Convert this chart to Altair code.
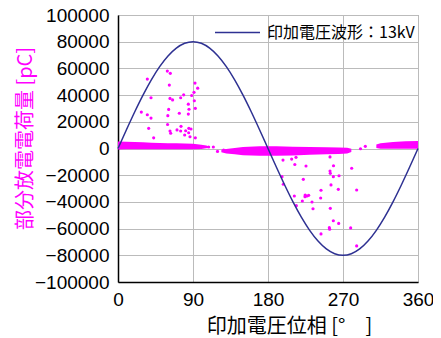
import altair as alt
import pandas as pd

# Applied voltage waveform (13 kV), phase in degrees, drawn in pC scale
wave_phase = [0, 10, 20, 30, 40, 50, 60, 70, 80, 90, 100, 110, 120, 130, 140, 150, 160, 170, 180,
              190, 200, 210, 220, 230, 240, 250, 260, 270, 280, 290, 300, 310, 320, 330, 340, 350, 360]
wave_value = [0, 13892, 27362, 40000, 51423, 61284, 69282, 75175, 78785, 80000, 78785, 75175, 69282,
              61284, 51423, 40000, 27362, 13892, 0, -13892, -27362, -40000, -51423, -61284, -69282,
              -75175, -78785, -80000, -78785, -75175, -69282, -61284, -51423, -40000, -27362, -13892, 0]
wave_label = "印加電圧波形：13kV"

# Dense band of small discharges near zero (segment, phase, low, high)
band_seg = [1] * 13 + [2] * 12 + [3] * 5
band_phase = [0, 10, 20, 30, 40, 50, 60, 70, 80, 90, 100, 106, 110,
              124, 130, 140, 150, 170, 190, 210, 230, 250, 265, 275, 280,
              310, 315, 330, 345, 360]
band_low = [-700, -600, -500, -500, -500, -500, -500, -500, -500, -500, -300, 100, 500,
            -2800, -3700, -4300, -5000, -5400, -5400, -5200, -4700, -4400, -4200, -3700, -2600,
            300, -200, -200, -200, -200]
band_high = [5200, 5000, 4800, 4600, 4400, 4200, 4000, 3900, 3700, 3600, 2800, 2200, 1400,
             -1000, -300, 400, 1200, 1600, 1700, 1400, 1200, 1000, 800, 500, -100,
             3000, 4000, 4900, 5400, 5600]

# Scattered large discharges
pt_phase = [28, 35.2, 35.2, 36.8, 39.6, 39.6, 42.8, 59.2, 62.8, 61.6, 62.4, 65.5, 60.8, 59.8, 59.5,
            62.4, 63.2, 70.8, 73.6, 75.2, 78.8, 75.6, 75.2, 80, 81.2, 85, 87.6, 84.8, 84.4, 85.2,
            84.4, 86.4, 88.4, 91.2, 92.4, 95.6, 91.6, 92.8, 92.8, 108.8, 114.4, 119.4, 126.8,
            196.8, 198.4, 198, 208.4, 212.2, 213.6, 211.6, 214, 221.2, 222.4, 224.6, 224.4, 226.8,
            228.8, 225.6, 232.8, 234, 243.6, 243.2, 243.6, 253.6, 254, 254.4, 254.8, 254.4, 255.6,
            254.8, 258.4, 258.6, 258.4, 264.4, 265.2, 264.8, 279.2, 280.4, 286.4, 286.4, 291, 296.8]
pt_value = [27300, 52000, 25300, 15100, 38000, 22800, 8000, 58000, 56300, 47500, 37500, 36400, 29300,
            24600, 18000, 13100, 11400, 13900, 26400, 38000, 40200, 16600, 13100, 10100, 13300,
            15100, 14600, 11800, 33200, 29400, 25800, 8800, 39700, 42100, 49000, 45200, 35800,
            30100, 8000, 1100, 1100, -2200, -1100,
            -21100, -26800, -8700, -7900, -12000, -6600, -35600, -42800, -39300, -23100, -34800,
            -36100, -35600, -35100, -13100, -40100, -45100, -31300, -37100, -64000, -59300, -60500,
            -16900, -18600, -6300, -27300, -44800, -21100, -12900, -54100, -30600, -20400, -56100,
            -59500, -14800, -31100, -73000, -200, 1600]

x_ticks = [0, 90, 180, 270, 360]
y_ticks = [-100000, -80000, -60000, -40000, -20000, 0, 20000, 40000, 60000, 80000, 100000]

wave_df = pd.DataFrame({"phase": wave_phase, "value": wave_value, "series": wave_label})
band_df = pd.DataFrame({"seg": band_seg, "phase": band_phase, "lo": band_low, "hi": band_high})
pt_df = pd.DataFrame({"phase": pt_phase, "value": pt_value})

MAG = "#FF00FF"
LINE = "#2E3192"

xscale = alt.Scale(domain=[0, 360], nice=False, zero=False)
yscale = alt.Scale(domain=[-100000, 100000], nice=False, zero=False)

xaxis = alt.Axis(values=x_ticks, grid=True, ticks=False, labelFlush=False, labelOverlap=False,
                 labelFontSize=19, labelFont="Liberation Sans", labelColor="black", labelPadding=8,
                 domainColor="black", domainWidth=1.5, gridColor="#BBBBBB", gridWidth=1,
                 title="印加電圧位相 [°　]", titleFont="Noto Sans CJK JP", titleFontSize=20,
                 titleFontWeight="normal", titleColor="black", titleX=171, titleY=44.5,
                 titleAlign="center", titleBaseline="middle")
yaxis = alt.Axis(values=y_ticks, tickCount=11, format="d", grid=True, ticks=False,
                 labelFlush=False, labelOverlap=False, labelSeparation=0,
                 labelFontSize=19, labelFont="Liberation Sans",
                 labelColor="black", labelPadding=9, domainColor="black", domainWidth=1.5,
                 gridColor="#BBBBBB", gridWidth=1,
                 title="部分放電電荷量 [pC]", titleFont="Noto Sans CJK JP", titleFontSize=20,
                 titleFontWeight="normal", titleColor=MAG, titleAngle=270, titleX=-93,
                 titleY=123, titleAlign="center", titleBaseline="middle")

band = alt.Chart(band_df).mark_area(color=MAG, opacity=1).encode(
    x=alt.X("phase:Q", scale=xscale, axis=xaxis),
    y=alt.Y("lo:Q", scale=yscale, axis=yaxis),
    y2="hi:Q",
    detail="seg:N",
)

points = alt.Chart(pt_df).mark_circle(color=MAG, size=10, opacity=1).encode(
    x=alt.X("phase:Q", scale=xscale, axis=xaxis),
    y=alt.Y("value:Q", scale=yscale, axis=yaxis),
)

wave = alt.Chart(wave_df).mark_line(strokeWidth=1.5, interpolate="monotone").encode(
    x=alt.X("phase:Q", scale=xscale, axis=xaxis),
    y=alt.Y("value:Q", scale=yscale, axis=yaxis),
    color=alt.Color("series:N", scale=alt.Scale(domain=[wave_label], range=[LINE]),
                    legend=alt.Legend(title=None, orient="none", legendX=96, legendY=-6,
                                      symbolType="stroke", symbolSize=2025, symbolStrokeWidth=1.5,
                                      labelFontSize=16, labelFont="Noto Sans CJK JP",
                                      labelColor="black", labelOffset=6, padding=0)),
)

chart = alt.layer(band, points, wave).properties(
    width=300, height=267,
    autosize=alt.AutoSizeParams(type="none"),
    padding={"left": 110, "top": 7, "right": 15, "bottom": 64},
).configure_view(stroke="#999999", strokeWidth=1).configure_axis(
    labelOverlap=False, labelFlush=False
)

chart.save("out.html", embed_options={"renderer": "svg", "actions": False})
